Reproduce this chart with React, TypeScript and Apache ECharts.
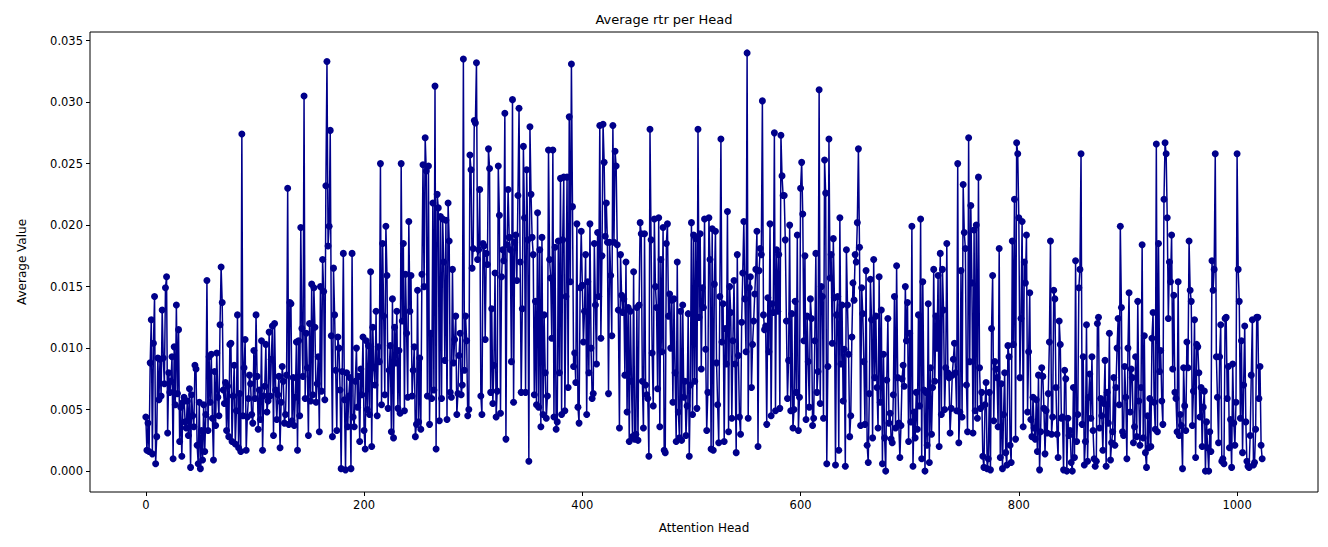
import { useEffect, useRef } from 'react';
import * as echarts from 'echarts';

// average value per attention head, in thousandths (×1e-3)
const VALUES_E3: number[] = [
  4.4,1.7,3.9,1.6,8.8,12.3,1.4,10.4,14.2,0.6,2.8,9.2,5.8,9.1,6.1,13.1,9.2,7.1,14.9,15.8,3.1,8.0,6.4,7.3,9.3,1.0,10.1,5.4,13.5,6.3,11.5,2.4,
  5.2,1.2,5.6,6.0,4.0,3.5,5.7,2.9,6.7,0.3,6.2,4.5,3.6,8.6,8.3,2.1,0.6,5.6,0.2,3.3,0.9,5.4,1.6,4.6,15.5,3.3,9.3,5.6,9.5,4.3,0.9,8.1,
  3.7,9.6,6.0,4.5,11.9,16.6,13.7,6.6,5.5,7.2,3.3,6.9,2.8,10.3,10.4,2.4,6.1,8.6,2.2,4.9,12.7,1.9,6.3,1.6,27.4,4.5,8.4,10.7,1.7,4.4,5.9,7.8,
  7.1,4.6,3.9,9.8,5.9,12.7,7.7,3.4,6.6,4.2,10.6,1.7,6.1,6.9,10.3,4.8,5.7,11.3,6.1,9.1,11.8,2.9,12.0,6.6,4.2,6.2,7.7,1.9,5.6,8.5,7.3,3.9,
  4.6,7.8,23.0,3.8,13.7,13.6,4.1,7.6,3.7,6.0,10.5,1.7,10.6,4.5,19.8,11.6,7.7,30.5,5.9,11.2,8.4,2.9,12.0,5.7,15.2,6.2,14.9,11.7,5.6,7.1,9.3,3.2,
  15.0,6.5,17.2,14.6,5.8,23.2,33.3,18.3,19.9,27.7,11.0,2.8,16.5,12.7,8.2,3.3,10.9,10.0,6.6,0.2,8.1,17.7,5.8,0.1,8.0,3.6,6.1,7.6,0.2,17.7,4.4,3.6,
  7.3,10.0,5.2,7.7,2.4,8.3,6.2,10.9,3.3,1.8,10.6,5.0,10.2,4.6,16.2,2.0,11.7,8.4,7.0,13.0,4.5,10.1,8.9,25.0,5.4,18.5,12.6,6.2,19.9,15.9,5.1,8.2,
  10.2,3.2,14.0,2.7,11.7,8.8,13.0,5.1,9.8,4.7,25.0,12.2,18.5,4.9,16.0,11.2,6.0,20.3,13.0,15.9,6.1,8.2,10.1,2.8,3.8,14.7,4.0,9.2,3.4,16.0,24.9,15.0,
  27.1,24.4,6.1,24.8,3.8,11.2,5.9,21.8,6.6,31.3,1.8,22.5,21.4,4.1,20.7,5.9,20.5,17.0,9.0,20.4,4.2,21.8,18.7,6.4,6.0,16.4,8.8,10.7,12.6,4.6,6.3,9.4,
  11.2,6.2,7.0,33.5,8.2,12.6,10.6,4.5,5.0,25.7,24.5,16.5,18.1,28.5,28.3,33.2,17.2,18.0,22.9,6.1,4.6,18.5,18.3,10.7,17.7,16.8,26.2,24.6,6.4,13.2,5.5,8.6,
  16.1,4.4,6.5,24.8,20.8,4.7,15.8,18.0,17.1,29.1,2.6,18.4,22.9,19.0,18.0,8.9,30.2,5.6,18.6,19.2,15.5,22.4,29.5,17.0,6.4,13.2,26.4,20.6,6.4,24.5,18.8,0.8,
  28.0,22.5,19.0,17.6,6.2,13.8,5.4,21.0,5.2,18.0,3.6,19.0,4.6,12.7,8.0,4.3,6.1,26.1,17.2,15.7,10.8,26.1,4.4,18.2,3.4,4.0,18.7,8.0,23.8,4.6,18.8,23.9,
  4.9,14.2,23.9,6.8,28.8,15.4,33.1,21.5,8.5,9.6,7.2,20.1,5.2,3.9,14.9,19.5,15.1,10.5,13.0,17.6,4.6,15.4,8.0,20.1,10.0,5.9,6.3,18.5,13.5,8.7,19.4,14.2,
  28.1,10.8,17.5,28.2,25.1,19.1,21.8,18.6,6.3,18.6,15.9,11.0,28.1,18.6,26.0,24.8,18.4,13.1,3.5,17.6,14.3,12.9,14.0,7.8,17.0,4.8,13.3,2.4,13.0,7.3,2.8,16.2,
  2.6,3.0,13.3,2.5,13.5,20.2,19.3,7.3,3.5,19.3,7.0,6.2,5.9,1.2,27.8,18.8,9.6,5.3,20.5,15.0,13.3,6.7,20.6,3.6,17.2,9.7,19.8,1.7,1.5,18.5,20.1,12.6,
  14.4,10.0,13.9,5.6,14.0,8.0,2.4,17.0,4.8,2.7,13.0,2.5,13.5,6.0,7.3,2.9,5.3,12.8,1.2,7.0,20.2,4.6,19.2,7.3,18.9,5.1,27.8,12.5,19.3,8.3,14.9,13.3,
  20.5,9.9,3.3,6.4,20.6,17.2,1.8,19.7,1.7,15.2,19.5,8.8,5.4,2.3,14.2,27.0,10.5,13.6,2.4,11.6,8.7,21.1,3.2,15.0,12.9,4.3,10.6,15.5,8.7,1.5,17.6,9.4,
  4.4,3.0,12.1,16.1,20.3,14.0,9.7,34.0,4.3,14.9,15.8,6.8,10.3,12.2,14.4,16.4,19.5,2.0,16.3,18.1,17.6,30.1,12.7,11.5,11.8,3.8,14.1,9.7,20.1,4.5,13.6,12.9,
  27.5,4.9,18.0,13.0,17.6,5.1,27.3,24.0,22.4,22.4,18.8,12.2,5.9,9.0,20.0,4.9,12.8,3.5,5.0,13.8,6.4,19.2,3.3,6.0,23.0,25.1,20.9,10.6,17.5,4.2,12.6,8.9,
  5.2,14.0,12.4,3.7,4.3,10.6,17.7,6.4,8.1,31.0,5.5,15.0,14.2,4.3,25.3,22.6,0.6,8.5,27.0,15.7,17.6,10.4,18.9,14.1,0.5,12.7,14.2,1.7,20.6,8.7,13.5,5.7,
  9.9,0.4,18.0,13.5,9.5,2.8,4.5,10.9,15.3,13.9,17.6,17.0,20.2,26.2,18.2,3.7,14.9,12.8,8.9,3.8,16.3,2.1,0.7,6.3,15.6,12.3,2.7,17.2,7.6,12.6,6.8,3.5,
  15.8,5.6,13.1,0.6,9.5,2.7,0.0,7.4,12.4,3.9,4.7,2.6,2.3,6.2,14.2,3.5,16.7,7.6,3.9,1.1,3.7,7.5,8.6,6.9,15.0,10.6,13.7,2.4,11.2,4.0,19.9,0.4,
  4.8,2.7,6.4,3.4,12.7,5.3,20.5,1.0,15.4,6.6,0.0,6.4,2.1,13.6,0.7,8.4,3.0,6.8,16.4,7.3,12.6,10.0,15.9,2.0,17.7,4.6,16.4,13.1,5.0,8.4,18.5,8.0,
  7.6,3.1,5.1,7.8,9.1,10.4,8.0,4.9,25.0,2.3,4.8,16.3,4.4,23.3,19.4,18.1,7.0,3.2,27.1,8.9,21.6,15.3,3.1,19.6,4.9,20.0,4.3,23.9,8.4,5.1,6.4,1.2,
  0.3,5.4,7.2,0.2,1.0,6.4,0.1,11.6,15.9,4.1,8.9,8.3,7.6,3.6,18.1,1.1,7.1,0.2,4.6,8.0,1.5,0.5,10.2,9.3,2.1,0.7,18.7,10.3,22.1,2.6,26.7,25.8,
  20.6,7.6,12.4,20.3,3.6,17.0,15.3,19.2,4.8,9.7,14.5,4.2,2.8,6.0,3.5,2.6,5.8,1.6,7.8,0.1,3.2,8.4,7.7,5.1,1.4,4.9,3.1,6.3,10.5,18.7,3.0,4.4,
  14.7,14.0,6.8,3.0,1.1,12.2,10.3,4.3,4.4,0.1,8.2,7.5,0.0,4.3,2.9,3.3,0.7,0.0,6.8,1.1,17.1,2.4,4.6,14.9,16.4,25.8,3.8,9.3,0.5,2.4,11.9,0.8,
  6.0,7.9,4.3,9.3,3.3,1.0,0.4,0.8,12.0,12.5,3.5,5.9,4.5,1.7,5.5,9.0,0.4,6.4,3.9,11.2,0.9,2.3,3.2,7.6,2.1,6.8,10.0,12.4,5.4,19.9,13.3,3.2,
  2.9,8.5,6.0,1.0,10.0,14.5,4.8,8.3,7.6,2.3,3.6,9.3,2.8,13.8,5.7,2.1,6.8,18.4,2.7,11.0,1.5,0.3,4.5,1.9,5.9,2.0,10.8,12.9,5.6,3.4,26.6,3.2,
  18.5,8.1,9.8,5.7,3.8,22.1,26.7,25.8,20.6,12.4,17.0,15.4,19.2,8.3,14.3,6.4,5.9,3.2,15.4,2.9,4.6,3.7,0.2,8.4,5.3,3.3,10.5,8.4,18.7,14.7,13.8,3.7,
  6.5,12.3,1.1,10.3,10.1,8.0,4.4,6.8,2.0,5.2,6.5,0.0,4.0,1.9,0.0,3.2,1.6,17.1,14.7,16.4,25.8,9.3,6.0,2.3,9.3,11.9,0.8,1.0,0.6,12.4,12.5,5.9,
  8.5,1.9,4.2,0.3,8.7,3.9,2.1,5.6,25.8,16.4,13.8,4.3,10.6,1.5,7.0,11.8,4.0,0.8,0.4,0.3,2.9,7.8,12.3,0.5,0.7,3.4,12.5,12.5,5.9,8.5,2.1,1.0,
];

const X_TICKS = [0, 200, 400, 600, 800, 1000];
const Y_TICKS = [0, 0.005, 0.01, 0.015, 0.02, 0.025, 0.03, 0.035];

const FONT = 'DejaVu Sans';
const LINE_COLOR = '#00008b';

export default function App() {
  const chartRef = useRef<HTMLDivElement>(null);

  useEffect(() => {
    if (!chartRef.current) return;
    const chart = echarts.init(chartRef.current, null, { renderer: 'svg' });
    const data = VALUES_E3.map((v, i) => [i, v / 1000]);
    const n = VALUES_E3.length - 1;
    const xPad = n * 0.05;

    chart.setOption({
      animation: false,
      textStyle: { fontFamily: FONT },
      title: {
        text: 'Average rtr per Head',
        left: 'center',
        top: 0,
        textStyle: { fontFamily: FONT, fontSize: 13, fontWeight: 'normal', color: '#000' },
      },
      grid: { left: 77, right: 2, top: 24, bottom: 46, show: true, borderColor: '#000', borderWidth: 1 },
      xAxis: {
        type: 'value',
        min: -xPad,
        max: n + xPad,
        name: 'Attention Head',
        nameLocation: 'middle',
        nameGap: 30,
        nameTextStyle: { color: '#000', fontSize: 12 },
        axisLine: { show: false, onZero: false },
        axisTick: { show: true, inside: false, length: 4, customValues: X_TICKS, lineStyle: { color: '#000' } },
        axisLabel: { customValues: X_TICKS, color: '#000', fontSize: 11.5, margin: 7, formatter: (v: number) => String(v) },
        splitLine: { show: false },
      },
      yAxis: {
        type: 'value',
        min: -0.0017,
        max: 0.0357,
        name: 'Average Value',
        nameLocation: 'middle',
        nameGap: 62,
        nameTextStyle: { color: '#000', fontSize: 12 },
        axisLine: { show: false, onZero: false },
        axisTick: { show: true, inside: false, length: 4, customValues: Y_TICKS, lineStyle: { color: '#000' } },
        axisLabel: {
          customValues: Y_TICKS,
          color: '#000',
          fontSize: 11.5,
          margin: 7,
          formatter: (v: number) => v.toFixed(3),
        },
        splitLine: { show: false },
      },
      series: [
        {
          type: 'line',
          data,
          symbol: 'circle',
          symbolSize: 7,
          itemStyle: { color: LINE_COLOR },
          lineStyle: { color: LINE_COLOR, width: 1.5 },
        },
      ],
    });
    return () => chart.dispose();
  }, []);

  return <div ref={chartRef} style={{ width: 1312, height: 531 }} />;
}
